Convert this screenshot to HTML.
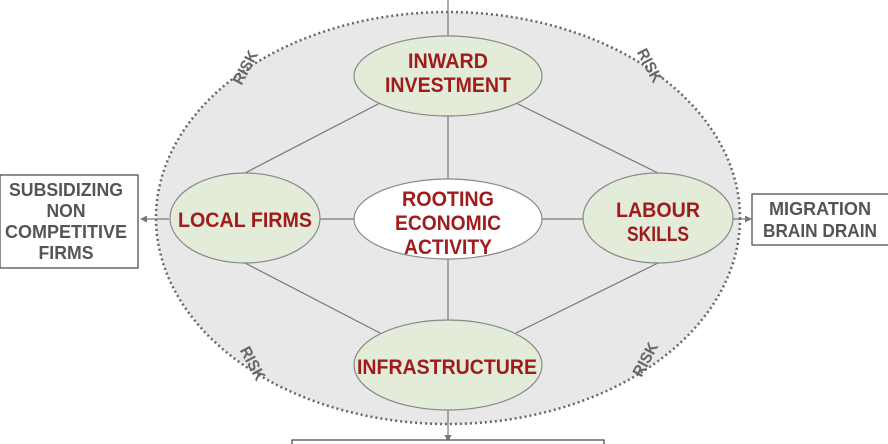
<!DOCTYPE html>
<html><head><style>body{margin:0;background:#fff}svg{display:block}</style></head><body>
<svg width="888" height="444" viewBox="0 0 888 444" xmlns="http://www.w3.org/2000/svg" font-family="Liberation Sans, sans-serif" font-weight="bold">
<ellipse cx="448" cy="218" rx="292" ry="206" fill="#e8e8e8" stroke="#666" stroke-width="2.5" stroke-dasharray="2 3"/>
<g stroke="#777" stroke-width="1.2" fill="none">
<line x1="448" y1="0" x2="448" y2="36"/>
<line x1="380" y1="103" x2="245" y2="173"/>
<line x1="516" y1="103" x2="658" y2="173"/>
<line x1="245" y1="263" x2="380" y2="333"/>
<line x1="658" y1="263" x2="516" y2="333"/>
<line x1="448" y1="115" x2="448" y2="320"/>
<line x1="316" y1="219" x2="354" y2="219"/>
<line x1="542" y1="219" x2="584" y2="219"/>
<line x1="169" y1="219" x2="146" y2="219"/>
<line x1="732" y1="219" x2="746" y2="219"/>
<line x1="448" y1="410" x2="448" y2="436"/>
</g>
<g fill="#777"><path d="M140 219l7-3.5v7z"/><path d="M752 219l-7-3.5v7z"/><path d="M448 442l-3.5-7h7z"/></g>
<g stroke="#888" stroke-width="1.2" fill="#e3ecd9">
<ellipse cx="448" cy="76" rx="94" ry="40"/>
<ellipse cx="245" cy="218" rx="75" ry="45"/>
<ellipse cx="658" cy="218" rx="75" ry="45"/>
<ellipse cx="448" cy="365" rx="94" ry="45"/>
</g>
<ellipse cx="448" cy="219" rx="94" ry="40" fill="#fff" stroke="#888" stroke-width="1.2"/>
<g fill="#a01c1c" font-size="21" text-anchor="middle">
<text x="448" y="68" textLength="80" lengthAdjust="spacingAndGlyphs">INWARD</text><text x="448" y="92" textLength="126" lengthAdjust="spacingAndGlyphs">INVESTMENT</text>
<text x="448" y="206" textLength="92" lengthAdjust="spacingAndGlyphs">ROOTING</text><text x="448" y="230" textLength="106" lengthAdjust="spacingAndGlyphs">ECONOMIC</text><text x="448" y="254" textLength="88" lengthAdjust="spacingAndGlyphs">ACTIVITY</text>
<text x="245" y="227" textLength="134" lengthAdjust="spacingAndGlyphs">LOCAL FIRMS</text>
<text x="658" y="217" textLength="84" lengthAdjust="spacingAndGlyphs">LABOUR</text><text x="658" y="241" textLength="62" lengthAdjust="spacingAndGlyphs">SKILLS</text>
<text x="447" y="374" textLength="180" lengthAdjust="spacingAndGlyphs">INFRASTRUCTURE</text>
</g>
<g fill="#fff" stroke="#444" stroke-width="1.2">
<rect x="0" y="175" width="138" height="93"/>
<rect x="752" y="194" width="140" height="51"/>
<rect x="292" y="440" width="312" height="10"/>
</g>
<g fill="#555" font-size="18" text-anchor="middle">
<text x="66" y="196" textLength="114" lengthAdjust="spacingAndGlyphs">SUBSIDIZING</text><text x="66" y="217" textLength="39" lengthAdjust="spacingAndGlyphs">NON</text><text x="66" y="238" textLength="122" lengthAdjust="spacingAndGlyphs">COMPETITIVE</text><text x="66" y="259" textLength="55" lengthAdjust="spacingAndGlyphs">FIRMS</text>
<text x="820" y="215" textLength="102" lengthAdjust="spacingAndGlyphs">MIGRATION</text><text x="820" y="237" textLength="114" lengthAdjust="spacingAndGlyphs">BRAIN DRAIN</text>
</g>
<g fill="#666" font-size="16" text-anchor="middle">
<text transform="translate(250,70) rotate(-62)" textLength="36" lengthAdjust="spacingAndGlyphs">RISK</text>
<text transform="translate(645,68) rotate(62)" textLength="36" lengthAdjust="spacingAndGlyphs">RISK</text>
<text transform="translate(248,366) rotate(62)" textLength="36" lengthAdjust="spacingAndGlyphs">RISK</text>
<text transform="translate(650,362) rotate(-62)" textLength="36" lengthAdjust="spacingAndGlyphs">RISK</text>
</g>
</svg>
</body></html>
